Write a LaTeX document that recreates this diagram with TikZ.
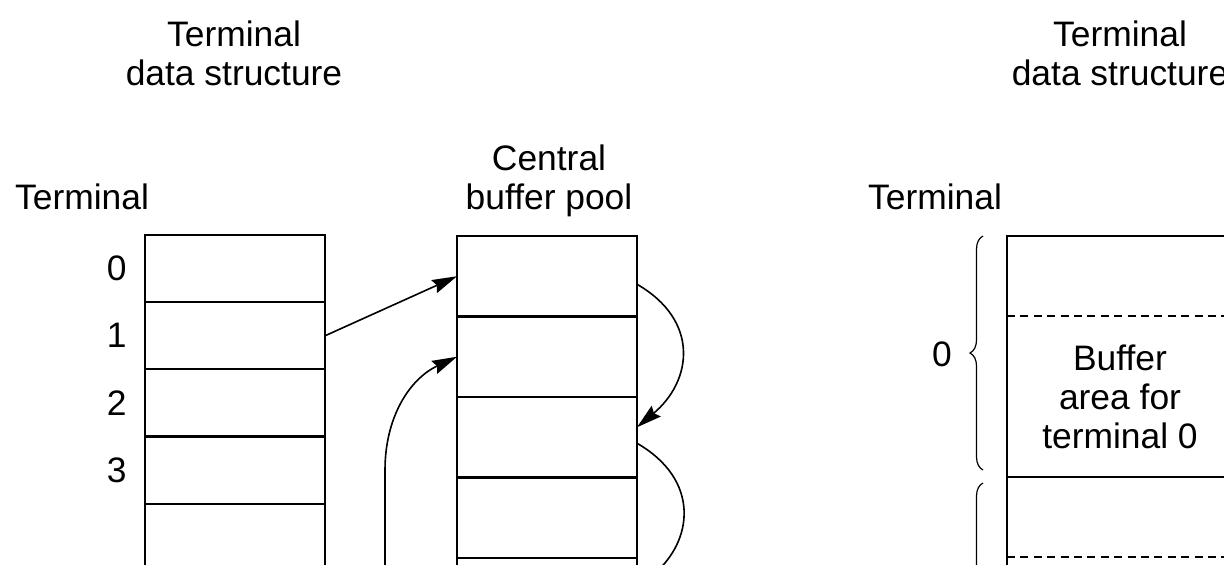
\documentclass[tikz,border=0pt]{standalone}
\usepackage{fontspec}
\setmainfont{Liberation Sans}
\usetikzlibrary{arrows.meta,positioning,decorations.pathreplacing}

\begin{document}
\begin{tikzpicture}[
  x=0.5pt, y=-0.5pt,
  every node/.style={font=\fontsize{17.7}{19.5}\selectfont},
  heading/.style={align=center, inner sep=0pt},
  slot/.style={draw, line width=1.1pt, minimum width=90pt, minimum height=33.6pt, inner sep=0pt, outer sep=0pt},
  pool/.style={slot, minimum height=40.25pt},
  area/.style={slot, minimum width=115pt, minimum height=120.5pt},
  link/.style={-{Stealth[length=12.5pt,width=7pt,inset=1.5pt]}, line width=0.8pt},
  grp/.style={decorate, decoration={brace, amplitude=6.5pt}, line width=0.6pt}
]
  \useasboundingbox (0,0) rectangle (1224,565);
  \clip (0,0) rectangle (1224,565);

  % terminal table
  \node[heading] (tds) at (234,53) {Terminal\\data structure};
  \node[heading] (term) at (82,197) {Terminal};
  \node[slot] (t0) at (235,268.6) {};
  \foreach \i [count=\j from 0] in {1,...,4}
    \node[slot, below=0pt of t\j] (t\i) {};
  \foreach \i in {0,...,3}
    \node[inner sep=0pt, left=9pt of t\i.west] (n\i) {\i};

  % central pool
  \node[heading] (cbp) at (549,181) {Central\\buffer pool};
  \node[pool] (p0) at (547,276.25) {};
  \foreach \i [count=\j from 0] in {1,...,4}
    \node[pool, below=0pt of p\j] (p\i) {};

  \coordinate (src) at (385,700);
  \coordinate (bend) at (385,470);
  \draw[link] (t1.east) -- (p0.west);
  \draw[link] (src) -- (bend) to[out=90, in=-155] (p1.west);
  \draw[link] ([yshift=-4pt]p0.east) to[out=-30, in=40, looseness=1.3] ([yshift=5pt]p2.east);
  \draw[link] ([yshift=-3pt]p2.east) to[out=-30, in=40, looseness=1.3] ([yshift=5pt]p4.east);

  % per-terminal buffer areas
  \node[heading] (tds2) at (1120,53) {Terminal\\data structure};
  \node[heading] (term2) at (935,197) {Terminal};
  \node[area] (a0) at (1122,356.5) {};
  \node[area, below=0pt of a0] (a1) {};
  \foreach \a in {a0,a1}
    \draw[dashed, dash pattern=on 4pt off 2.7pt, line width=0.6pt]
      ([yshift=-40pt]\a.north west) -- ([yshift=-40pt]\a.north east);
  \node[heading] (buf0) at (1120,397) {Buffer\\area for\\terminal 0};
  \draw[grp] ([xshift=-12pt,yshift=3.5pt]a0.south west) -- ([xshift=-12pt]a0.north west);
  \draw[grp] ([xshift=-12pt,yshift=3.5pt]a1.south west) -- ([xshift=-12pt,yshift=-3pt]a1.north west);
  \node[inner sep=0pt] (k0) at (942,354) {0};
\end{tikzpicture}
\end{document}
